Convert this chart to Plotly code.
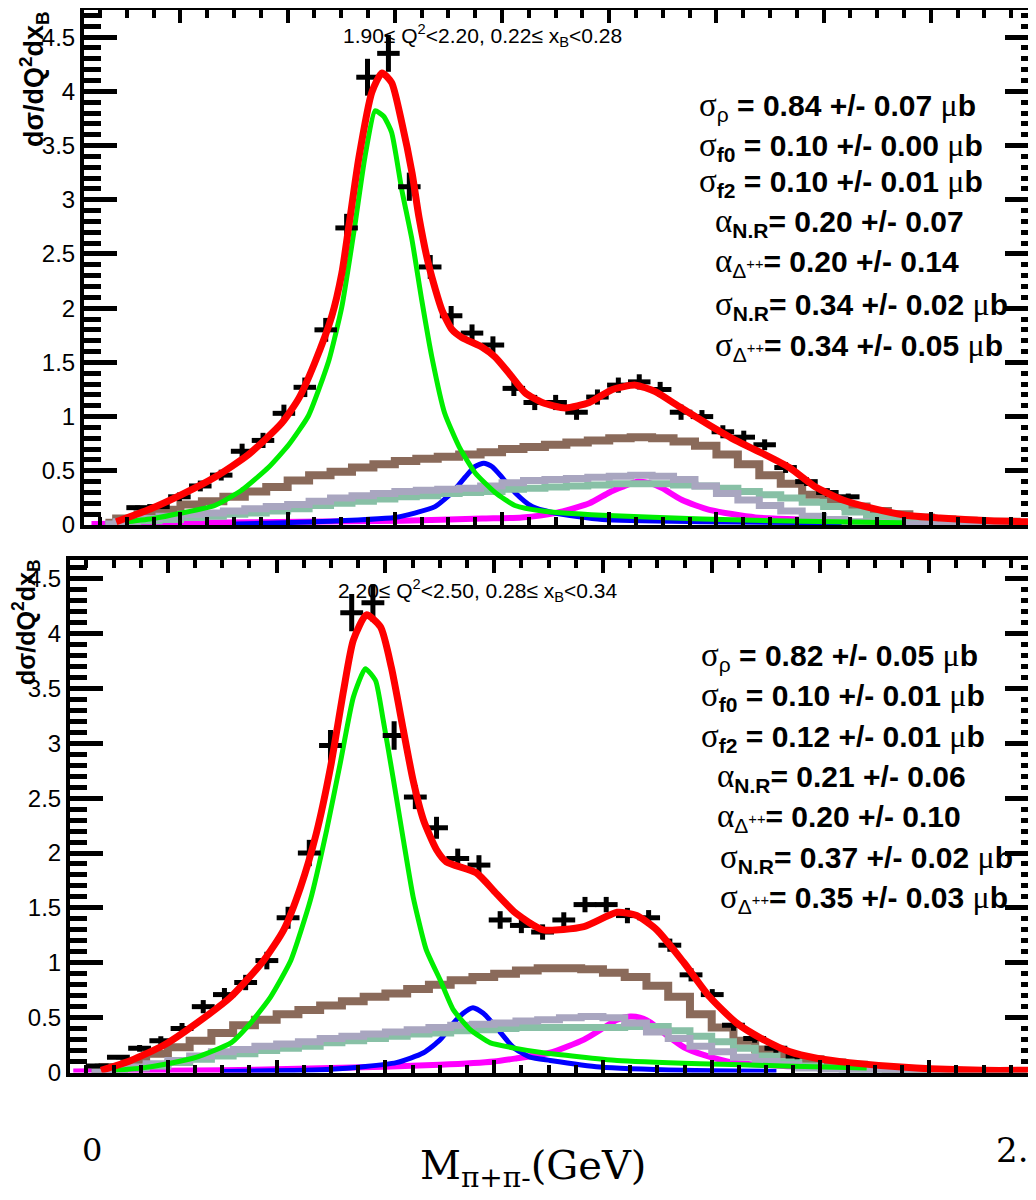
import plotly.graph_objects as go

W, H = 1036, 1200
OFF = 8  # page body margin of the browser: shift everything by this many pixels

# ---------------- shared binning for the stepped (MC) histograms ----------------
hist_centers = [0.26, 0.30, 0.34, 0.38, 0.42, 0.46, 0.50, 0.54, 0.58, 0.62, 0.66,
                0.70, 0.74, 0.78, 0.82, 0.86, 0.90, 0.94, 0.98, 1.02, 1.06, 1.10,
                1.14, 1.18, 1.22, 1.26, 1.30, 1.34, 1.38, 1.42, 1.46, 1.50, 1.54,
                1.58, 1.62, 1.66, 1.70, 1.74, 1.78, 1.82, 1.86, 1.90, 1.94, 1.98]

# ---------------- top panel: 1.90<=Q2<2.20, 0.22<=xB<0.28 ----------------
top_pts_m = [0.320, 0.359, 0.398, 0.437, 0.476, 0.515, 0.554, 0.593, 0.632, 0.671,
             0.710, 0.749, 0.788, 0.827, 0.866, 0.905, 0.944, 0.983, 1.022, 1.061,
             1.100, 1.139, 1.178, 1.217, 1.256, 1.295, 1.334, 1.373, 1.412, 1.451,
             1.490, 1.529, 1.568, 1.607, 1.646]
top_pts_v = [0.16, 0.17, 0.26, 0.36, 0.46, 0.68, 0.78, 1.03, 1.27, 1.80,
             2.74, 4.13, 4.35, 3.12, 2.38, 1.93, 1.77, 1.66, 1.26, 1.13,
             1.13, 1.04, 1.18, 1.29, 1.32, 1.25, 1.04, 1.00, 0.86, 0.81,
             0.74, 0.53, 0.40, 0.30, 0.26]
top_pts_err = [0.02, 0.02, 0.04, 0.05, 0.05, 0.07, 0.07, 0.08, 0.09, 0.11,
               0.13, 0.17, 0.17, 0.13, 0.11, 0.09, 0.08, 0.08, 0.07, 0.07,
               0.07, 0.07, 0.07, 0.07, 0.07, 0.07, 0.07, 0.06, 0.06, 0.06,
               0.05, 0.05, 0.04, 0.04, 0.03]

top_total_m = [0.280, 0.340, 0.402, 0.464, 0.527, 0.589, 0.621, 0.650, 0.682, 0.701,
               0.714, 0.733, 0.757, 0.776, 0.794, 0.813, 0.832, 0.845, 0.864, 0.888,
               0.907, 0.925, 0.963, 0.987, 1.013, 1.043, 1.075, 1.118, 1.163, 1.206,
               1.249, 1.286, 1.331, 1.387, 1.436, 1.486, 1.536, 1.585, 1.636, 1.686,
               1.753, 1.817, 1.910, 1.985]
top_total_v = [0.03, 0.14, 0.28, 0.44, 0.65, 0.94, 1.17, 1.49, 1.92, 2.32,
               2.75, 3.39, 3.99, 4.17, 4.08, 3.71, 3.25, 2.84, 2.38, 1.98,
               1.80, 1.73, 1.64, 1.55, 1.40, 1.22, 1.13, 1.08, 1.13, 1.25,
               1.29, 1.23, 1.09, 0.92, 0.78, 0.66, 0.53, 0.35, 0.23, 0.16,
               0.09, 0.065, 0.04, 0.03]

top_rho_m = [0.30, 0.35, 0.402, 0.464, 0.514, 0.564, 0.602, 0.639, 0.677, 0.701,
             0.725, 0.744, 0.763, 0.779, 0.794, 0.813, 0.832, 0.850, 0.869, 0.893,
             0.920, 0.950, 0.987, 1.024, 1.075, 1.187, 1.374, 1.561, 1.748]
top_rho_v = [0.03, 0.06, 0.11, 0.18, 0.32, 0.53, 0.74, 1.01, 1.52, 2.01,
             2.75, 3.39, 3.82, 3.77, 3.62, 3.09, 2.63, 2.08, 1.55, 1.03,
             0.72, 0.48, 0.30, 0.18, 0.13, 0.09, 0.055, 0.035, 0.02]

top_f0_m = [0.50, 0.65, 0.80, 0.837, 0.875, 0.907, 0.931, 0.950, 0.966, 0.981,
            1.000, 1.024, 1.056, 1.099, 1.187, 1.374, 1.654]
top_f0_v = [0.01, 0.03, 0.07, 0.11, 0.17, 0.30, 0.44, 0.54, 0.57, 0.54,
            0.44, 0.30, 0.17, 0.11, 0.05, 0.03, 0.02]

top_f2_m = [0.234, 0.439, 0.626, 0.813, 0.963, 1.037, 1.099, 1.163, 1.200, 1.224,
            1.252, 1.280, 1.299, 1.336, 1.387, 1.473, 1.566, 1.654]
top_f2_v = [0.01, 0.02, 0.03, 0.04, 0.06, 0.07, 0.11, 0.20, 0.30, 0.35,
            0.40, 0.38, 0.34, 0.23, 0.14, 0.07, 0.05, 0.04]

top_brown = [0.02, 0.06, 0.10, 0.14, 0.19, 0.22, 0.26, 0.31, 0.35, 0.41, 0.46,
             0.49, 0.53, 0.56, 0.59, 0.61, 0.63, 0.65, 0.67, 0.70, 0.72, 0.74,
             0.76, 0.78, 0.80, 0.81, 0.80, 0.77, 0.73, 0.65, 0.56, 0.46, 0.38,
             0.28, 0.22, 0.17, 0.13, 0.10, 0.07, 0.05, 0.04, 0.03, 0.03, 0.02]
top_grey = [0.01, 0.03, 0.06, 0.08, 0.10, 0.11, 0.13, 0.15, 0.17, 0.19, 0.22,
            0.25, 0.27, 0.29, 0.31, 0.32, 0.33, 0.34, 0.36, 0.39, 0.41, 0.42,
            0.43, 0.44, 0.45, 0.46, 0.45, 0.42, 0.36, 0.29, 0.23, 0.18, 0.13,
            0.08, 0.05, 0.03, 0.02, 0.01, 0.01, 0.01, 0.005, 0.005, 0.005, 0.005]
top_seagreen = [0.005, 0.02, 0.04, 0.05, 0.07, 0.08, 0.10, 0.11, 0.13, 0.15, 0.18,
                0.20, 0.22, 0.24, 0.26, 0.27, 0.29, 0.30, 0.31, 0.33, 0.34, 0.35,
                0.36, 0.37, 0.38, 0.38, 0.38, 0.37, 0.36, 0.34, 0.31, 0.28, 0.25,
                0.21, 0.17, 0.12, 0.08, 0.06, 0.04, 0.03, 0.02, 0.01, 0.01, 0.005]

top_title = "1.90≤ Q<sup>2</sup>&lt;2.20, 0.22≤ x<sub>B</sub>&lt;0.28"
top_fit_values = ["0.84 +/- 0.07", "0.10 +/- 0.00", "0.10 +/- 0.01", "0.20 +/- 0.07",
                  "0.20 +/- 0.14", "0.34 +/- 0.02", "0.34 +/- 0.05"]

# ---------------- bottom panel: 2.20<=Q2<2.50, 0.28<=xB<0.34 ----------------
bot_pts_m = [0.270, 0.309, 0.348, 0.387, 0.426, 0.465, 0.504, 0.543, 0.582, 0.621,
             0.660, 0.699, 0.738, 0.777, 0.816, 0.855, 0.894, 0.933, 0.972, 1.011,
             1.050, 1.089, 1.128, 1.167, 1.206, 1.245, 1.284, 1.323, 1.362, 1.401,
             1.440, 1.479, 1.518, 1.557]
bot_pts_v = [0.06, 0.14, 0.22, 0.29, 0.40, 0.60, 0.71, 0.82, 1.02, 1.41,
             2.00, 2.98, 4.19, 4.28, 3.07, 2.51, 2.23, 1.95, 1.89, 1.39,
             1.34, 1.28, 1.39, 1.53, 1.53, 1.43, 1.41, 1.16, 0.89, 0.71,
             0.43, 0.31, 0.22, 0.15]
bot_pts_err = [0.02, 0.02, 0.03, 0.04, 0.05, 0.06, 0.06, 0.07, 0.08, 0.10,
               0.12, 0.14, 0.17, 0.17, 0.13, 0.11, 0.10, 0.09, 0.09, 0.08,
               0.07, 0.07, 0.07, 0.07, 0.07, 0.07, 0.07, 0.06, 0.06, 0.05,
               0.05, 0.04, 0.04, 0.03]

bot_total_m = [0.277, 0.332, 0.393, 0.453, 0.516, 0.576, 0.613, 0.644, 0.673, 0.699,
               0.723, 0.741, 0.765, 0.791, 0.811, 0.833, 0.851, 0.870, 0.894, 0.912,
               0.967, 1.004, 1.040, 1.090, 1.165, 1.226, 1.262, 1.299, 1.349, 1.396,
               1.446, 1.495, 1.543, 1.593, 1.653, 1.776, 1.899, 1.983]
bot_total_v = [0.02, 0.11, 0.25, 0.45, 0.69, 1.02, 1.30, 1.69, 2.18, 2.78,
               3.48, 3.94, 4.17, 4.06, 3.69, 3.12, 2.66, 2.30, 2.03, 1.92,
               1.82, 1.63, 1.45, 1.30, 1.33, 1.46, 1.43, 1.30, 1.00, 0.69,
               0.45, 0.30, 0.19, 0.13, 0.09, 0.04, 0.02, 0.02]

bot_rho_m = [0.30, 0.35, 0.40, 0.453, 0.516, 0.552, 0.589, 0.626, 0.662, 0.692,
             0.717, 0.741, 0.763, 0.782, 0.796, 0.815, 0.833, 0.851, 0.875, 0.901,
             0.925, 0.956, 0.993, 1.040, 1.090, 1.226, 1.378, 1.532, 1.685]
bot_rho_v = [0.02, 0.04, 0.08, 0.14, 0.27, 0.45, 0.69, 1.02, 1.57, 2.21,
             2.82, 3.42, 3.68, 3.57, 3.21, 2.66, 2.12, 1.60, 1.12, 0.84,
             0.57, 0.39, 0.27, 0.22, 0.18, 0.11, 0.08, 0.06, 0.04]

bot_f0_m = [0.50, 0.70, 0.820, 0.870, 0.901, 0.925, 0.943, 0.961, 0.980, 1.004,
            1.035, 1.066, 1.103, 1.194, 1.349, 1.519]
bot_f0_v = [0.01, 0.03, 0.09, 0.18, 0.30, 0.45, 0.54, 0.59, 0.54, 0.41,
            0.23, 0.14, 0.11, 0.05, 0.02, 0.01]

bot_f2_m = [0.226, 0.50, 0.70, 0.90, 1.00, 1.042, 1.103, 1.165, 1.202, 1.226,
            1.250, 1.268, 1.286, 1.312, 1.349, 1.385, 1.440, 1.532, 1.65]
bot_f2_v = [0.01, 0.02, 0.04, 0.07, 0.10, 0.13, 0.18, 0.30, 0.41, 0.48,
            0.51, 0.50, 0.46, 0.36, 0.23, 0.16, 0.09, 0.06, 0.04]

bot_brown = [0.02, 0.05, 0.10, 0.17, 0.23, 0.29, 0.36, 0.43, 0.48, 0.53, 0.57,
             0.61, 0.65, 0.69, 0.72, 0.76, 0.80, 0.84, 0.87, 0.90, 0.93, 0.95,
             0.95, 0.94, 0.91, 0.87, 0.79, 0.69, 0.53, 0.41, 0.29, 0.21, 0.15,
             0.12, 0.09, 0.07, 0.05, 0.03, 0.02, 0.015, 0.01, 0.01, 0.005, 0.005]
bot_grey = [0.005, 0.02, 0.05, 0.08, 0.11, 0.15, 0.19, 0.21, 0.24, 0.26, 0.28,
            0.31, 0.33, 0.35, 0.37, 0.39, 0.41, 0.43, 0.44, 0.45, 0.47, 0.48,
            0.50, 0.51, 0.50, 0.45, 0.37, 0.31, 0.24, 0.19, 0.14, 0.10, 0.07,
            0.04, 0.03, 0.02, 0.01, 0.005, 0.005, 0.005, 0.005, 0.005, 0.005, 0.005]
bot_seagreen = [0.005, 0.02, 0.04, 0.06, 0.09, 0.12, 0.15, 0.17, 0.20, 0.22, 0.24,
                0.27, 0.29, 0.31, 0.33, 0.35, 0.36, 0.38, 0.39, 0.40, 0.41, 0.41,
                0.41, 0.41, 0.41, 0.42, 0.42, 0.38, 0.33, 0.28, 0.22, 0.15, 0.10,
                0.06, 0.04, 0.03, 0.02, 0.01, 0.005, 0.005, 0.005, 0.005, 0.005, 0.005]

bot_title = "2.20≤ Q<sup>2</sup>&lt;2.50, 0.28≤ x<sub>B</sub>&lt;0.34"
bot_fit_values = ["0.82 +/- 0.05", "0.10 +/- 0.01", "0.12 +/- 0.01", "0.21 +/- 0.06",
                  "0.20 +/- 0.10", "0.37 +/- 0.02", "0.35 +/- 0.03"]

fit_greek = ["σ", "σ", "σ", "α", "α", "σ", "σ"]
fit_subs = ["ρ", "<b>f0</b>", "<b>f2</b>", "<b>N.R</b>", "Δ<sup>++</sup>",
            "<b>N.R</b>", "Δ<sup>++</sup>"]
fit_gap = [" ", " ", " ", "", "", "", ""]
fit_unit = [True, True, True, False, False, True, True]

# ---------------- styles ----------------
C_RED = "#ff0000"
C_GREEN = "#00ee00"
C_BLUE = "#0000ff"
C_MAG = "#ff00ff"
C_BROWN = "#8a6a5a"
C_GREY = "#a9a6c0"
C_SEA = "#88c0a6"
SANS = "Liberation Sans, Arial, sans-serif"
SERIF = "DejaVu Serif, Liberation Serif, serif"

fig = go.Figure()


def px_x(p):
    return (p - OFF) / W


def px_y(p):
    return 1 - (p - OFF) / H


def add_panel(xa, ya, pts_m, pts_v, pts_e, tot_m, tot_v, rho_m, rho_v,
              f0_m, f0_v, f2_m, f2_v, brown, grey, sea):
    kw = dict(xaxis=xa, yaxis=ya, hoverinfo="skip", showlegend=False)
    fig.add_trace(go.Scatter(x=f2_m, y=f2_v, mode="lines", line=dict(color=C_MAG, width=6, shape="spline", smoothing=0.6), **kw))
    fig.add_trace(go.Scatter(x=f0_m, y=f0_v, mode="lines", line=dict(color=C_BLUE, width=5, shape="spline", smoothing=0.6), **kw))
    fig.add_trace(go.Scatter(x=hist_centers, y=brown, mode="lines", line=dict(color=C_BROWN, width=8, shape="hvh"), **kw))
    fig.add_trace(go.Scatter(x=hist_centers, y=sea, mode="lines", line=dict(color=C_SEA, width=7, shape="hvh"), **kw))
    fig.add_trace(go.Scatter(x=hist_centers, y=grey, mode="lines", line=dict(color=C_GREY, width=7, shape="hvh"), **kw))
    fig.add_trace(go.Scatter(x=rho_m, y=rho_v, mode="lines", line=dict(color=C_GREEN, width=5, shape="spline", smoothing=0.5), **kw))
    fig.add_trace(go.Scatter(
        x=pts_m, y=pts_v, mode="markers", marker=dict(size=1, color="black"),
        error_x=dict(type="constant", value=0.021, thickness=5, width=0, color="black"),
        error_y=dict(type="data", array=pts_e, thickness=5, width=0, color="black"), **kw))
    fig.add_trace(go.Scatter(x=tot_m, y=tot_v, mode="lines", line=dict(color=C_RED, width=7, shape="spline", smoothing=0.6), **kw))


add_panel("x", "y", top_pts_m, top_pts_v, top_pts_err, top_total_m, top_total_v,
          top_rho_m, top_rho_v, top_f0_m, top_f0_v, top_f2_m, top_f2_v,
          top_brown, top_grey, top_seagreen)
add_panel("x2", "y2", bot_pts_m, bot_pts_v, bot_pts_err, bot_total_m, bot_total_v,
          bot_rho_m, bot_rho_v, bot_f0_m, bot_f0_v, bot_f2_m, bot_f2_v,
          bot_brown, bot_grey, bot_seagreen)


def xaxis(domain, anchor):
    return dict(domain=domain, anchor=anchor, range=[0.22, 2.0], showline=True,
                linecolor="black", linewidth=4, mirror="allticks", ticks="inside",
                ticklen=13, tickwidth=4, tickcolor="black", tick0=0, dtick=0.2,
                showticklabels=False, showgrid=False, zeroline=False, automargin=False,
                minor=dict(dtick=0.05, ticks="inside", ticklen=8, tickwidth=4,
                           tickcolor="black", showgrid=False))


def yaxis(domain, anchor, ymax):
    return dict(domain=domain, anchor=anchor, range=[0, ymax], showline=True,
                linecolor="black", linewidth=4, mirror="allticks", ticks="inside",
                ticklen=33, tickwidth=5, tickcolor="black", tick0=0, dtick=0.5,
                tickfont=dict(family=SANS, size=24, color="black"),
                showgrid=False, zeroline=False, automargin=False,
                minor=dict(dtick=0.1, ticks="inside", ticklen=17, tickwidth=5,
                           tickcolor="black", showgrid=False))


fig.update_layout(
    width=W, height=H, margin=dict(l=0, r=0, t=0, b=0, autoexpand=False),
    paper_bgcolor="white", plot_bgcolor="white", showlegend=False,
    xaxis=xaxis([px_x(84), px_x(1038)], "y"),
    yaxis=yaxis([px_y(525), px_y(10)], "x", 4.75),
    xaxis2=xaxis([px_x(70), px_x(1038)], "y2"),
    yaxis2=yaxis([px_y(1072.5), px_y(560)], "x2", 4.67),
)

ann = []


def text(x, y, s, size, family=SANS, xanchor="left", yanchor="middle", angle=0):
    ann.append(dict(x=px_x(x), y=px_y(y), xref="paper", yref="paper", text=s,
                    showarrow=False, xanchor=xanchor, yanchor=yanchor, textangle=angle,
                    font=dict(family=family, size=size, color="black")))


ytitle = "<b>dσ/dQ<sup>2</sup>dx<sub>B</sub></b>"
text(34, 9, ytitle, 27, xanchor="center", yanchor="top", angle=-90)
text(26, 557, ytitle, 25, xanchor="center", yanchor="top", angle=-90)

text(482, 36, top_title, 21, xanchor="center")
text(478, 590, bot_title, 21, xanchor="center")


def fit_line(g, sub, gap, val, unit):
    s = ('<span style="font-family:Liberation Serif;font-weight:normal;font-size:33px">' + g +
         "</span><sub>" + sub + "</sub><b>" + gap + "= " + val + "</b>")
    if unit:
        s += ' <span style="font-family:Liberation Serif;font-weight:normal;font-size:32px">μ</span><b>b</b>'
    return s


top_x = [697, 697, 697, 713, 713, 713, 713]
top_y = [106, 146, 182, 222, 262, 306, 346]
bot_x = [699, 699, 699, 715, 715, 718, 718]
bot_y = [656, 696, 737, 777, 817, 858, 898]
for i in range(7):
    text(top_x[i], top_y[i], fit_line(fit_greek[i], fit_subs[i], fit_gap[i], top_fit_values[i], fit_unit[i]), 30)
    text(bot_x[i], bot_y[i], fit_line(fit_greek[i], fit_subs[i], fit_gap[i], bot_fit_values[i], fit_unit[i]), 30)

text(92, 1150, "0", 32, family=SERIF, xanchor="center")
text(994, 1150, "2.", 34, family=SERIF)
text(418, 1168, "M<sub>π+π-</sub>(GeV)", 40, family=SERIF)

fig.update_layout(annotations=ann)
fig.write_html("out.html")
